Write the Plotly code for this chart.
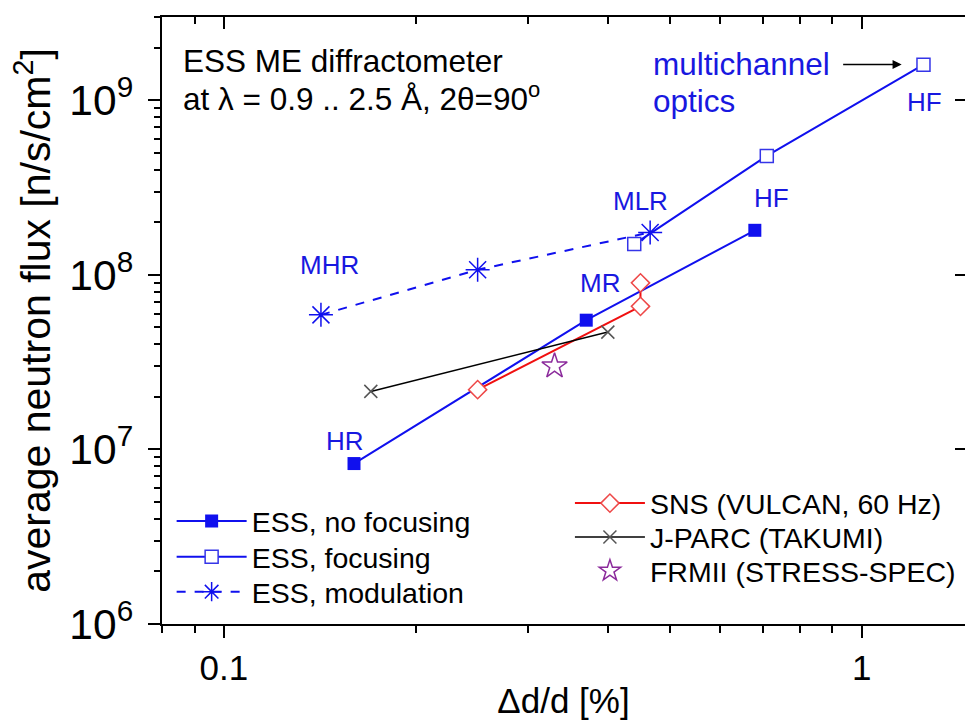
import math
import plotly.graph_objects as go

# Average neutron flux vs. resolution for strain diffractometers
ess_nofocus_dd = [0.16, 0.37, 0.68]
ess_nofocus_flux = [8.3e6, 5.5e7, 1.8e8]

ess_focus_dd = [0.44, 0.71, 1.25]
ess_focus_flux = [1.5e8, 4.8e8, 1.6e9]

ess_mod_dd = [0.142, 0.25, 0.466]
ess_mod_flux = [5.9e7, 1.07e8, 1.75e8]

sns_dd = [0.25, 0.45, 0.45]
sns_flux = [2.2e7, 6.6e7, 9.0e7]

jparc_dd = [0.17, 0.40]
jparc_flux = [2.15e7, 4.7e7]

frm_dd = [0.33]
frm_flux = [3.0e7]

FONT = "Liberation Sans, Arial, Helvetica, sans-serif"
BLUE = "#1010EE"
BLUE_TXT = "#1818E0"

fig = go.Figure()

fig.add_trace(go.Scatter(
    x=ess_nofocus_dd, y=ess_nofocus_flux, mode="lines+markers",
    name="ESS, no focusing", legend="legend",
    line=dict(color=BLUE, width=2),
    marker=dict(symbol="square", size=13, color=BLUE, line=dict(width=0)),
))
fig.add_trace(go.Scatter(
    x=ess_focus_dd, y=ess_focus_flux, mode="lines+markers",
    name="ESS, focusing", legend="legend2",
    line=dict(color=BLUE, width=2),
    marker=dict(symbol="square", size=13, color="white",
                line=dict(color="#3535E8", width=1.5)),
))
fig.add_trace(go.Scatter(
    x=ess_mod_dd, y=ess_mod_flux, mode="lines+markers",
    name="ESS, modulation", legend="legend3",
    line=dict(color=BLUE, width=2, dash="dash"),
    marker=dict(symbol="asterisk-open", size=20, color=BLUE,
                line=dict(color=BLUE, width=1.5)),
))
fig.add_trace(go.Scatter(
    x=sns_dd, y=sns_flux, mode="lines+markers",
    name="SNS (VULCAN, 60 Hz)", legend="legend4",
    line=dict(color="#F01010", width=2),
    marker=dict(symbol="diamond", size=14, color="white",
                line=dict(color="#EE4848", width=1.5)),
))
fig.add_trace(go.Scatter(
    x=jparc_dd, y=jparc_flux, mode="lines+markers",
    name="J-PARC (TAKUMI)", legend="legend5",
    line=dict(color="black", width=1.5),
    marker=dict(symbol="x-thin-open", size=13, color="#555555",
                line=dict(color="#555555", width=1.5)),
))
fig.add_trace(go.Scatter(
    x=frm_dd, y=frm_flux, mode="markers",
    name="FRMII (STRESS-SPEC)", legend="legend6",
    marker=dict(symbol="star-open", size=19, color="#8B2A9B",
                line=dict(color="#8B2A9B", width=1.5)),
))
# empty trace that carries the top/right tick axes
fig.add_trace(go.Scatter(x=[], y=[], xaxis="x2", yaxis="y2",
                         showlegend=False, hoverinfo="skip"))

xr = [math.log10(0.08), 0.162]
yr = [6, math.log10(3e9)]


def legend_box(x, y):
    return dict(
        x=x, y=y, xanchor="left", yanchor="middle",
        bgcolor="rgba(0,0,0,0)", itemwidth=70, borderwidth=0,
        font=dict(size=28.5, family=FONT, color="black"),
    )


fig.update_layout(
    width=965, height=720,
    margin=dict(l=162, r=0, t=17, b=93),
    paper_bgcolor="white", plot_bgcolor="white",
    font=dict(family=FONT, color="black"),
    xaxis=dict(
        type="log", range=xr, dtick=1, showgrid=False, zeroline=False,
        showline=True, linecolor="black", linewidth=2, mirror=True,
        ticks="outside", ticklen=12, tickwidth=2, tickcolor="black",
        minor=dict(dtick="D1", ticks="outside", ticklen=7, tickwidth=1.5,
                   tickcolor="black", showgrid=False),
        tickfont=dict(size=35, family=FONT),
        title=dict(text="Δd/d [%]", font=dict(size=35, family=FONT), standoff=8),
    ),
    yaxis=dict(
        type="log", range=yr, dtick=1, showgrid=False, zeroline=False,
        exponentformat="power", showexponent="all",
        showline=True, linecolor="black", linewidth=2,
        ticks="outside", ticklen=12, tickwidth=2, tickcolor="black",
        minor=dict(dtick="D1", ticks="outside", ticklen=6, tickwidth=1.5,
                   tickcolor="black", showgrid=False),
        tickfont=dict(size=34, family=FONT),
        ticklabelstandoff=8,
        title=dict(text="average neutron flux [n/s/cm<sup>2</sup>]",
                   font=dict(size=41, family=FONT), standoff=6),
    ),
    xaxis2=dict(
        type="log", range=xr, dtick=1, overlaying="x", side="top",
        showgrid=False, zeroline=False, showline=False, showticklabels=False,
        ticks="inside", ticklen=12, tickwidth=2, tickcolor="black",
        minor=dict(dtick="D1", ticks="inside", ticklen=7, tickwidth=1.5,
                   tickcolor="black", showgrid=False),
    ),
    yaxis2=dict(
        type="log", range=yr, dtick=1, overlaying="y", side="right",
        showgrid=False, zeroline=False, showline=False, showticklabels=False,
        ticks="inside", ticklen=10, tickwidth=2, tickcolor="black",
    ),
    legend=legend_box(0.012, (627 - 524) / 610),
    legend2=legend_box(0.012, (627 - 560) / 610),
    legend3=legend_box(0.012, (627 - 595) / 610),
    legend4=legend_box(0.508, (627 - 506) / 610),
    legend5=legend_box(0.508, (627 - 540) / 610),
    legend6=legend_box(0.508, (627 - 574) / 610),
    showlegend=True,
)

# Point labels (positions in log10 axis units)
labels = [
    ("HR", -0.810, 7.051),
    ("MHR", -0.834, 8.054),
    ("MR", -0.411, 7.952),
    ("MLR", -0.346, 8.425),
    ("HF", -0.141, 8.442),
    ("HF", 0.099, 8.989),
]
for txt, lx, ly in labels:
    fig.add_annotation(x=lx, y=ly, xref="x", yref="y", text=txt,
                       showarrow=False, xanchor="center", yanchor="middle",
                       font=dict(size=26, family=FONT, color=BLUE_TXT))

fig.add_annotation(x=0.024, y=0.928, xref="paper", yref="paper",
                   text="ESS ME diffractometer", showarrow=False,
                   xanchor="left", yanchor="middle",
                   font=dict(size=31.5, family=FONT, color="black"))
fig.add_annotation(x=0.024, y=0.868, xref="paper", yref="paper",
                   text="at λ = 0.9 .. 2.5 Å, 2θ=90<sup>o</sup>", showarrow=False,
                   xanchor="left", yanchor="middle",
                   font=dict(size=31.5, family=FONT, color="black"))
fig.add_annotation(x=0.609, y=0.923, xref="paper", yref="paper",
                   text="multichannel", showarrow=False,
                   xanchor="left", yanchor="middle",
                   font=dict(size=31.5, family=FONT, color=BLUE_TXT))
fig.add_annotation(x=0.609, y=0.862, xref="paper", yref="paper",
                   text="optics", showarrow=False,
                   xanchor="left", yanchor="middle",
                   font=dict(size=31.5, family=FONT, color=BLUE_TXT))
# arrow pointing at the multichannel-optics point
fig.add_annotation(x=0.0627, y=9.205, xref="x", yref="y", text="",
                   showarrow=True, ax=-60, ay=0, axref="pixel", ayref="pixel",
                   arrowhead=2, arrowsize=1.4, arrowwidth=1.3,
                   arrowcolor="black", standoff=0)

fig.write_html("out.html")
